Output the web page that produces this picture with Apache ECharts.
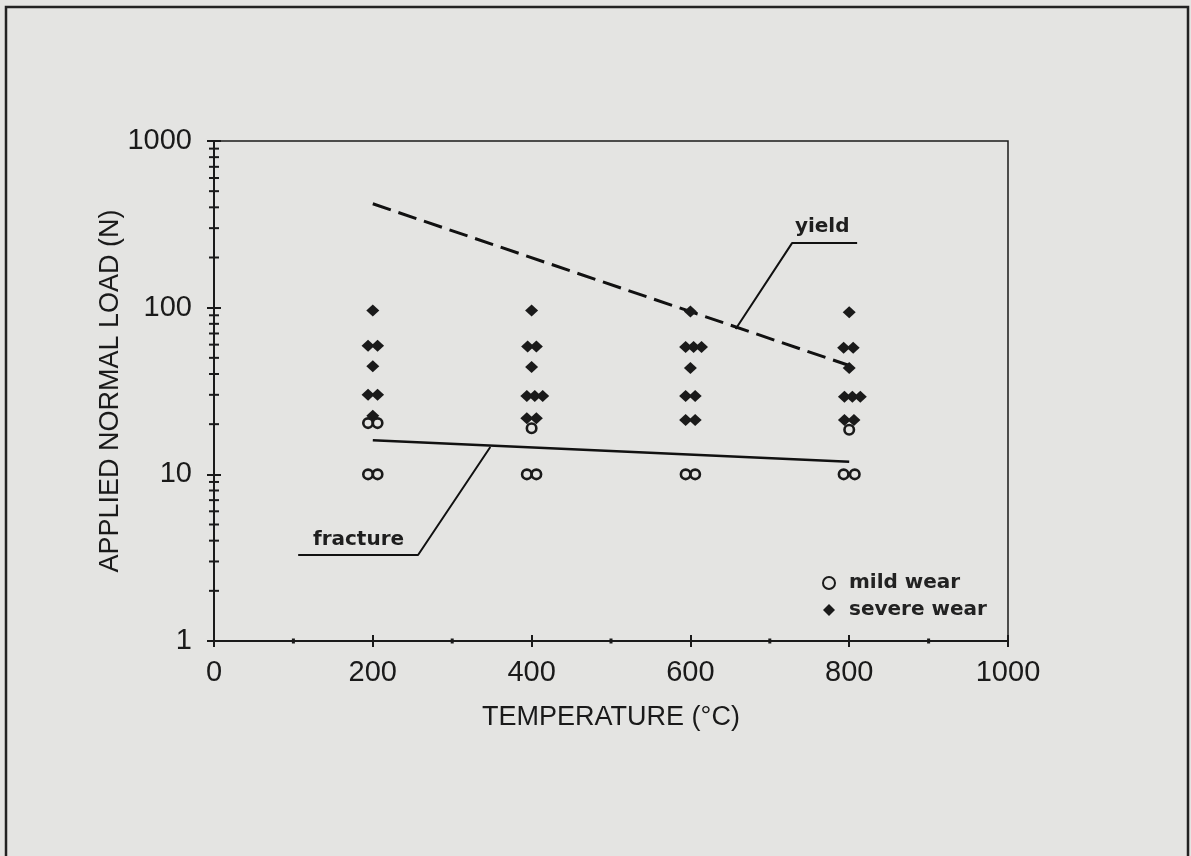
<!DOCTYPE html>
<html>
<head>
<meta charset="utf-8">
<script src="https://cdn.jsdelivr.net/npm/echarts@6/dist/echarts.min.js"></script>
<style>
  html, body { margin: 0; padding: 0; background: #e4e4e2; }
  #chart { width: 1191px; height: 856px; }
</style>
</head>
<body>
<div id="chart"></div>
<script>
// ---- data (temperature °C, applied normal load N) ----
const mildWear = [
  [194, 10], [206, 10], [194, 20.3], [206, 20.3],
  [394, 10], [406, 10], [400, 18.9],
  [594, 10], [606, 10],
  [793, 10], [807, 10], [800, 18.5]
];
const severeWear = [
  [200, 96], [194, 59], [206, 59], [200, 44.5], [194, 30], [206, 30], [200, 22.5],
  [400, 96], [395, 58.5], [406, 58.5], [400, 44], [394, 29.5], [404, 29.5], [414, 29.5], [394, 21.7], [406, 21.7],
  [600, 95], [594, 58], [604, 58], [614, 58], [600, 43.5], [594, 29.5], [606, 29.5], [594, 21.2], [606, 21.2],
  [800, 94], [793, 57.5], [805, 57.5], [800, 43.5], [794, 29.2], [804, 29.2], [814, 29.2], [794, 21.2], [806, 21.2]
];
const yieldLine = [[200, 420], [800, 45]];
const fractureLine = [[200, 16], [800, 11.9]];
const yieldLeader = [[657, 74.5], [728, 244], [810, 244]];
const fractureLeader = [[106, 3.28], [257, 3.28], [348, 14.6]];
const annotationLabels = [
  { name: 'yield', value: [766, 305] },
  { name: 'fracture', value: [182, 4.04] }
];
const xMinorTicks = [100, 300, 500, 700, 900];
const yMinorTicks = [2, 3, 4, 5, 6, 7, 8, 9, 20, 30, 40, 50, 60, 70, 80, 90, 200, 300, 400, 500, 600, 700, 800, 900];
const xName = 'TEMPERATURE (°C)';
const yName = 'APPLIED NORMAL LOAD (N)';

const ink = '#1a1a1a';
const tickFont = 'Liberation Sans, Arial, sans-serif';
const noteFont = 'DejaVu Sans, sans-serif';

const chart = echarts.init(document.getElementById('chart'), null, { renderer: 'canvas' });

const plain = v => String(v);
const baseX = {
  type: 'value', min: 0, max: 1000, interval: 200,
  splitLine: { show: false }
};
const baseY = {
  type: 'log', logBase: 10, min: 1, max: 1000,
  splitLine: { show: false }
};

chart.setOption({
  animation: false,
  backgroundColor: '#e4e4e2',
  grid: {
    left: 214, right: 183, top: 141, bottom: 215,
    show: true, borderColor: ink, borderWidth: 1.5, backgroundColor: 'transparent'
  },
  xAxis: [
    Object.assign({}, baseX, {
      position: 'bottom',
      axisLine: { lineStyle: { color: ink, width: 2 } },
      axisTick: { inside: true, length: 6, lineStyle: { color: ink, width: 2 } },
      axisLabel: { color: ink, fontFamily: tickFont, fontSize: 29, margin: 17, formatter: plain },
      name: xName, nameLocation: 'middle', nameGap: 63,
      nameTextStyle: { color: ink, fontFamily: tickFont, fontSize: 27 }
    }),
    Object.assign({}, baseX, {
      position: 'bottom', offset: 0,
      axisLine: { show: false },
      axisTick: { inside: false, length: 6, lineStyle: { color: ink, width: 2 } },
      axisLabel: { show: false }
    })
  ],
  yAxis: [
    Object.assign({}, baseY, {
      position: 'left',
      axisLine: { lineStyle: { color: ink, width: 2 } },
      axisTick: { inside: true, length: 7, lineStyle: { color: ink, width: 2 } },
      axisLabel: { color: ink, fontFamily: tickFont, fontSize: 29, margin: 22, formatter: plain },
      name: yName, nameLocation: 'middle', nameGap: 90, nameMoveOverlap: false,
      nameTextStyle: { color: ink, fontFamily: tickFont, fontSize: 27 }
    }),
    Object.assign({}, baseY, {
      position: 'left', offset: 0,
      axisLine: { show: false },
      axisTick: { inside: false, length: 7, lineStyle: { color: ink, width: 2 } },
      axisLabel: { show: false }
    })
  ],
  legend: {
    data: [
      { name: 'mild wear', icon: 'circle' },
      { name: 'severe wear', icon: 'diamond' }
    ],
    orient: 'vertical',
    left: 817, top: 568,
    itemWidth: 12, itemHeight: 12, itemGap: 7,
    textStyle: { color: '#222', fontFamily: noteFont, fontWeight: 'bold', fontSize: 20, padding: [0, 0, 0, 9] },
    selectedMode: false
  },
  graphic: [{
    type: 'rect', silent: true,
    shape: { x: 6, y: 7, width: 1182, height: 900 },
    style: { fill: 'none', stroke: '#222', lineWidth: 2.5 }
  }],
  series: [
    {
      name: 'yield line', type: 'line', data: yieldLine, symbol: 'none',
      lineStyle: { color: '#111', width: 3, type: [19, 8] }, z: 2
    },
    {
      name: 'fracture line', type: 'line', data: fractureLine, symbol: 'none',
      lineStyle: { color: '#111', width: 2.5 }, z: 2
    },
    {
      name: 'yield leader', type: 'line', data: yieldLeader, symbol: 'none',
      lineStyle: { color: '#111', width: 2 }, z: 2
    },
    {
      name: 'fracture leader', type: 'line', data: fractureLeader, symbol: 'none',
      lineStyle: { color: '#111', width: 2 }, z: 2
    },
    {
      name: 'severe wear', type: 'scatter', data: severeWear,
      symbol: 'diamond', symbolSize: [13, 12],
      itemStyle: { color: '#1a1a1a', opacity: 1 }, z: 4
    },
    {
      name: 'mild wear', type: 'scatter', data: mildWear,
      symbol: 'circle', symbolSize: 9.5,
      itemStyle: { color: 'rgba(0,0,0,0)', borderColor: ink, borderWidth: 2.6, opacity: 1 }, z: 5
    },
    {
      name: 'labels', type: 'scatter', data: annotationLabels,
      symbolSize: 0, silent: true, itemStyle: { opacity: 1 },
      label: {
        show: true, position: 'inside', formatter: '{b}',
        color: '#1e1e1e', fontFamily: noteFont, fontWeight: 'bold', fontSize: 20
      }
    },
    {
      name: 'y minor ticks', type: 'scatter', clip: false, silent: true,
      data: yMinorTicks.map(v => [0, v]),
      symbol: 'rect', symbolSize: [10, 2], itemStyle: { color: ink, opacity: 1 }, z: 6
    },
    {
      name: 'x minor ticks', type: 'scatter', clip: false, silent: true,
      data: xMinorTicks.map(v => [v, 1]),
      symbol: 'rect', symbolSize: [3, 5], itemStyle: { color: ink, opacity: 1 }, z: 6
    }
  ]
});
</script>
</body>
</html>
